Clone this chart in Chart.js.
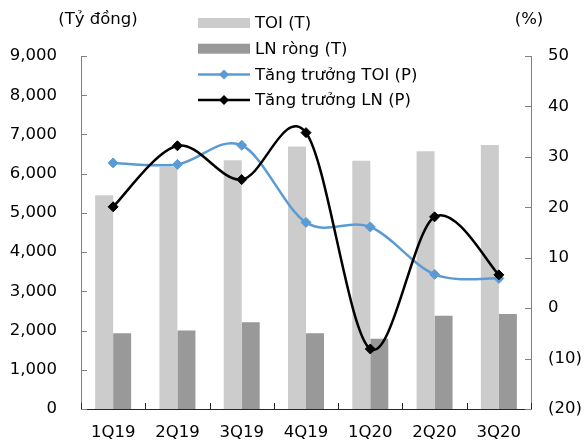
<!DOCTYPE html>
<html>
<head>
<meta charset="utf-8">
<script src="https://cdn.jsdelivr.net/npm/chart.js@4/dist/chart.umd.min.js"></script>
<style>
  html, body { margin: 0; padding: 0; background: #fff; }
  canvas { display: block; }
</style>
</head>
<body>
<canvas id="c" width="586" height="447"></canvas>
<script>
// Quarterly TOI and net profit (bn VND, left axis) with YoY growth (%, right axis)
const quarters = ['1Q19', '2Q19', '3Q19', '4Q19', '1Q20', '2Q20', '3Q20'];
const toi = [5450, 6170, 6340, 6690, 6330, 6570, 6730];
const netProfit = [1930, 2000, 2210, 1930, 1790, 2380, 2420];
const toiGrowth = [28.8, 28.5, 32.3, 17.0, 16.1, 6.7, 5.9];
const profitGrowth = [20.1, 32.2, 25.5, 34.8, -8.1, 18.1, 6.6];
const seriesNames = ['TOI (T)', 'LN ròng (T)', 'Tăng trưởng TOI (P)', 'Tăng trưởng LN (P)'];
const leftTitle = '(Tỷ đồng)';
const rightTitle = '(%)';

const FONT = 'DejaVu Sans';
const FONT_SIZE = 16.5;
Chart.defaults.font.family = FONT;
Chart.defaults.font.size = FONT_SIZE;
Chart.defaults.color = '#000';

const fmtLeft = v => Number(v).toLocaleString('en-US');
const fmtRight = v => (v < 0 ? '(' + Math.abs(v) + ')' : String(v));

// Uniform Catmull-Rom smoothing for the growth lines (tangent = (next - prev) / 6)
const smoothLines = {
  id: 'smoothLines',
  beforeDatasetsDraw(chart) {
    chart.data.datasets.forEach((ds, di) => {
      if (ds.type !== 'line') return;
      const meta = chart.getDatasetMeta(di);
      const line = meta.dataset;
      if (line.updateControlPoints) line.updateControlPoints(chart.chartArea, 'x');
      const pts = meta.data;
      for (let i = 0; i < pts.length; i++) {
        const p = pts[i];
        const prev = pts[Math.max(i - 1, 0)];
        const next = pts[Math.min(i + 1, pts.length - 1)];
        const tx = (next.x - prev.x) / 6, ty = (next.y - prev.y) / 6;
        p.cp1x = p.x - tx; p.cp1y = p.y - ty;
        p.cp2x = p.x + tx; p.cp2y = p.y + ty;
      }
      line._path = undefined;
    });
  }
};

// Inner tick marks, axis titles and the stacked legend at the top
const decor = {
  id: 'decor',
  beforeDatasetsDraw(chart) {
    const { ctx, chartArea: a, scales: { x, y, y1 } } = chart;
    ctx.save();
    ctx.lineWidth = 1;
    ctx.strokeStyle = '#7f7f7f';
    ctx.beginPath();
    y.ticks.forEach((t, i) => {
      const py = Math.round(y.getPixelForTick(i)) + 0.5;
      ctx.moveTo(a.left, py); ctx.lineTo(a.left + 6, py);
    });
    y1.ticks.forEach((t, i) => {
      const py = Math.round(y1.getPixelForTick(i)) + 0.5;
      ctx.moveTo(a.right - 6, py); ctx.lineTo(a.right, py);
    });
    ctx.stroke();
    ctx.strokeStyle = '#262626';
    ctx.beginPath();
    for (let i = 0; i <= quarters.length; i++) {
      const px = Math.round(x.getPixelForValue(i - 0.5)) + 0.5;
      ctx.moveTo(px, a.bottom); ctx.lineTo(px, a.bottom - 6);
    }
    ctx.stroke();
    ctx.restore();
  },
  afterDraw(chart) {
    const { ctx } = chart;
    ctx.save();
    ctx.font = FONT_SIZE + 'px "' + FONT + '"';
    ctx.fillStyle = '#000';
    ctx.textBaseline = 'middle';
    ctx.textAlign = 'center';
    ctx.fillText(leftTitle, 98, 20);
    ctx.fillText(rightTitle, 529, 20);

    ctx.textAlign = 'left';
    const x0 = 198, x1 = 250;
    chart.data.datasets.forEach((ds, i) => {
      const cy = 23 + i * 25.7;
      if (ds.type === 'bar') {
        ctx.fillStyle = ds.backgroundColor;
        ctx.fillRect(x0, cy - 5, x1 - x0, 10);
      } else {
        ctx.strokeStyle = ds.borderColor;
        ctx.lineWidth = 2.5;
        ctx.beginPath();
        ctx.moveTo(x0, cy); ctx.lineTo(x1, cy);
        ctx.stroke();
        const mx = (x0 + x1) / 2, r = 5;
        ctx.fillStyle = ds.borderColor;
        ctx.beginPath();
        ctx.moveTo(mx, cy - r); ctx.lineTo(mx + r, cy);
        ctx.lineTo(mx, cy + r); ctx.lineTo(mx - r, cy);
        ctx.closePath();
        ctx.fill();
      }
      ctx.fillStyle = '#000';
      ctx.fillText(ds.label, 255, cy + 1);
    });
    ctx.restore();
  }
};

new Chart(document.getElementById('c'), {
  data: {
    labels: quarters,
    datasets: [
      {
        type: 'bar', label: seriesNames[0], data: toi, yAxisID: 'y',
        backgroundColor: '#cccccc', order: 3,
        categoryPercentage: 0.56, barPercentage: 1.0
      },
      {
        type: 'bar', label: seriesNames[1], data: netProfit, yAxisID: 'y',
        backgroundColor: '#999999', order: 3,
        categoryPercentage: 0.56, barPercentage: 1.0
      },
      {
        type: 'line', label: seriesNames[2], data: toiGrowth, yAxisID: 'y1',
        borderColor: '#5b9bd5', backgroundColor: '#5b9bd5', borderWidth: 2.5,
        pointStyle: 'rectRot', pointRadius: 5, pointBorderWidth: 1,
        tension: 0.4, order: 2
      },
      {
        type: 'line', label: seriesNames[3], data: profitGrowth, yAxisID: 'y1',
        borderColor: '#000000', backgroundColor: '#000000', borderWidth: 2.5,
        pointStyle: 'rectRot', pointRadius: 5, pointBorderWidth: 1,
        tension: 0.4, order: 1
      }
    ]
  },
  options: {
    responsive: false,
    animation: false,
    devicePixelRatio: 1,
    layout: { padding: { top: 56, left: 0, right: 0, bottom: 0 } },
    plugins: { legend: { display: false }, tooltip: { enabled: false } },
    scales: {
      x: {
        offset: true,
        grid: { display: false, drawTicks: false },
        border: { display: true, color: '#262626', width: 1 },
        ticks: { padding: 14, maxRotation: 0 },
        afterFit(s) { s.height = 38; }
      },
      y: {
        position: 'left',
        min: 0, max: 9000,
        grid: { display: false, drawTicks: false },
        border: { display: true, color: '#7f7f7f', width: 1 },
        ticks: { stepSize: 1000, padding: 24, callback: v => fmtLeft(v) },
        afterFit(s) { s.width = 81; }
      },
      y1: {
        position: 'right',
        min: -20, max: 50,
        grid: { display: false, drawTicks: false },
        border: { display: true, color: '#7f7f7f', width: 1 },
        ticks: { stepSize: 10, padding: 17, callback: v => fmtRight(v) },
        afterFit(s) { s.width = 55; }
      }
    }
  },
  plugins: [smoothLines, decor]
});
</script>
</body>
</html>
